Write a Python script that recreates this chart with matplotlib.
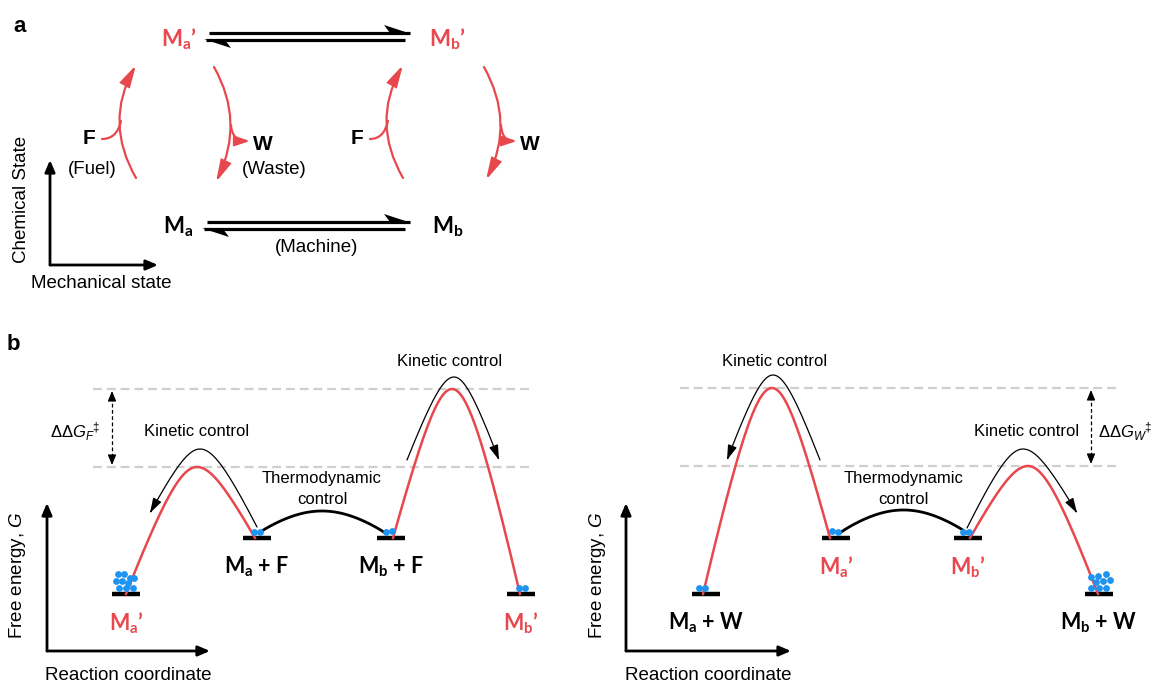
import numpy as np
import matplotlib
matplotlib.use("Agg")
import matplotlib.pyplot as plt
from matplotlib.patches import FancyArrowPatch, Polygon
from matplotlib.path import Path

# ---------------- data (pixel layout space, y downward) ----------------
RED = "#E8474D"
BLUE = "#1E93F0"

# Panel a: chemical/mechanical states
a_names = ["$\\mathbf{M_a}$\u2019", "$\\mathbf{M_b}$\u2019", "$\\mathbf{M_a}$", "$\\mathbf{M_b}$"]
a_node_x = [179, 447, 178, 448]
a_node_y = [39, 39, 227, 227]
a_node_color = [RED, RED, "black", "black"]
# red cycle arcs: bottom/ bulge / top (x,y) for F-arcs (upward) and W-arcs (downward)
F_arc_x = [[136, 120, 136], [403, 387, 403]]
F_arc_y = [[178, 122, 65], [178, 122, 65]]
W_arc_x = [[214, 230, 216], [484, 500, 486]]
W_arc_y = [[67, 123, 182], [67, 123, 180]]
F_label_x = [89, 357]
W_label_x = [263, 530]

# Panel b: energy diagrams
fuel_level_x = [126, 257, 391, 521]
fuel_level_y = [594, 538, 538, 594]
fuel_labels = ["$\\mathbf{M_a}$\u2019", "$\\mathbf{M_a}$ + F", "$\\mathbf{M_b}$ + F", "$\\mathbf{M_b}$\u2019"]
fuel_label_color = [RED, "black", "black", RED]
fuel_peak_x = [197, 452]
fuel_peak_y = [467, 389]

waste_level_x = [706, 836, 968, 1099]
waste_level_y = [594, 538, 538, 594]
waste_labels = ["$\\mathbf{M_a}$ + W", "$\\mathbf{M_a}$\u2019", "$\\mathbf{M_b}$\u2019", "$\\mathbf{M_b}$ + W"]
waste_label_color = ["black", RED, RED, "black"]
waste_peak_x = [772, 1028]
waste_peak_y = [388, 466]

thermo_peak_y = [511, 510]

# blue population dots (x, y)
dots_fuel_x = [118, 124, 130, 116, 122, 128, 134, 119, 126, 133, 254, 260, 386, 392, 519, 525]
dots_fuel_y = [574, 574, 578, 581, 581, 583, 578, 588, 588, 588, 532, 532, 532, 531, 588, 588]
dots_waste_x = [699, 705, 832, 838, 963, 969, 1091, 1098, 1106, 1096, 1103, 1110, 1091, 1099, 1106]
dots_waste_y = [588, 588, 531, 532, 532, 532, 577, 576, 574, 582, 581, 580, 588, 588, 588]

W_PX, H_PX = 1153, 683

plt.rcParams["mathtext.fontset"] = "custom"
plt.rcParams["mathtext.rm"] = "Liberation Sans"
plt.rcParams["mathtext.bf"] = "Lato:bold"
plt.rcParams["mathtext.it"] = "Liberation Sans:italic"

fig = plt.figure(figsize=(W_PX / 100, H_PX / 100), dpi=100)
ax = fig.add_axes([0, 0, 1, 1])
ax.set_xlim(0, W_PX)
ax.set_ylim(H_PX, 0)
ax.axis("off")

SANS = "Liberation Sans"
LAB = "Lato"


def quad_arrow(p0, pm, p2, color, lw, ms, hl, hw, head=True):
    cx = 2 * pm[0] - (p0[0] + p2[0]) / 2
    cy = 2 * pm[1] - (p0[1] + p2[1]) / 2
    path = Path([p0, (cx, cy), p2], [Path.MOVETO, Path.CURVE3, Path.CURVE3])
    style = f"-|>,head_length={hl},head_width={hw}" if head else "-"
    ax.add_patch(FancyArrowPatch(path=path, arrowstyle=style, mutation_scale=ms,
                                 color=color, lw=lw, capstyle="round", joinstyle="miter"))


def curve_arrow(x, y, color="black", lw=0.9, ms=10, hl=0.9, hw=0.28):
    path = Path(np.c_[x, y])
    ax.add_patch(FancyArrowPatch(path=path, arrowstyle=f"-|>,head_length={hl},head_width={hw}",
                                 mutation_scale=ms, color=color, lw=lw))


def barrier(x0, y0, xp, yp, x1, y1, c=0.45, n=80):
    s = np.linspace(1, 0, n)
    h = (np.sqrt(s ** 2 + c ** 2) - c) / (np.sqrt(1 + c ** 2) - c)
    xl = xp + (x0 - xp) * s
    yl = yp + (y0 - yp) * h
    s2 = np.linspace(0, 1, n)[1:]
    h2 = (np.sqrt(s2 ** 2 + c ** 2) - c) / (np.sqrt(1 + c ** 2) - c)
    xr = xp + (x1 - xp) * s2
    yr = yp + (y1 - yp) * h2
    return np.r_[xl, xr], np.r_[yl, yr]


def axis_arrows(x0, y0, ytop, xright, lw=2.0):
    for xy in [(x0, ytop), (xright, y0)]:
        ax.annotate("", xy=xy, xytext=(x0, y0),
                    arrowprops=dict(arrowstyle="-|>,head_length=0.7,head_width=0.3", color="black",
                                    lw=lw, shrinkA=0, shrinkB=0, mutation_scale=10))


def eq_arrows(xl, xr, y_up, y_lo):
    ax.plot([xl + 3, xr], [y_up, y_up], color="black", lw=2.3, solid_capstyle="butt")
    ax.plot([xl, xr - 5], [y_lo, y_lo], color="black", lw=2.3, solid_capstyle="butt")
    ax.add_patch(Polygon([(xr + 1, y_up + 0.8), (xr - 26, y_up - 8), (xr - 20, y_up)],
                         closed=True, color="black", lw=0))
    ax.add_patch(Polygon([(xl - 2, y_lo - 0.8), (xl + 25, y_lo + 8), (xl + 19, y_lo)],
                         closed=True, color="black", lw=0))


# ---------------- panel a ----------------
ax.text(13, 26, "a", fontsize=16, fontweight="bold", family=SANS, va="center", ha="left")
for nm, x, y, c in zip(a_names, a_node_x, a_node_y, a_node_color):
    ax.text(x, y, nm, fontsize=16, family=LAB, fontweight="bold", color=c, ha="center", va="center")
eq_arrows(206, 410, 33, 40)
eq_arrows(204, 410, 222, 229)
ax.text(317, 248, "(Machine)", fontsize=13.5, family=SANS, ha="center", va="center")

for xs, ys, lx in zip(F_arc_x, F_arc_y, F_label_x):
    quad_arrow((xs[0], ys[0]), (xs[1], ys[1]), (xs[2], ys[2]), RED, 1.6, 10, 1.3, 0.33)
    # fuel input branch
    path = Path([(lx + 13, 139), (xs[1] - 3, 139), (xs[1] + 1, 121)],
                [Path.MOVETO, Path.CURVE3, Path.CURVE3])
    ax.add_patch(FancyArrowPatch(path=path, arrowstyle="-", color=RED, lw=1.6))
    ax.text(lx, 139, "F", fontsize=15, family=SANS, fontweight="bold", ha="center", va="center")

for xs, ys, lx in zip(W_arc_x, W_arc_y, W_label_x):
    quad_arrow((xs[0], ys[0]), (xs[1], ys[1]), (xs[2], ys[2]), RED, 1.6, 10, 1.3, 0.33)
    path = Path([(xs[1] + 1, 125), (xs[1] + 2, 141), (lx - 13, 141)],
                [Path.MOVETO, Path.CURVE3, Path.CURVE3])
    ax.add_patch(FancyArrowPatch(path=path, arrowstyle="-|>,head_length=0.9,head_width=0.3",
                                 mutation_scale=10, color=RED, lw=1.6))
    ax.text(lx, 144, "W", fontsize=15, family=SANS, fontweight="bold", ha="center", va="center")

ax.text(92, 169, "(Fuel)", fontsize=13.5, family=SANS, ha="center", va="center")
ax.text(274, 169, "(Waste)", fontsize=13.5, family=SANS, ha="center", va="center")

axis_arrows(50, 265, 160, 158)
ax.text(22, 199, "Chemical State", fontsize=13.5, family=SANS, rotation=90, ha="center", va="center")
ax.text(101, 283, "Mechanical state", fontsize=13.5, family=SANS, ha="center", va="center")

# ---------------- panel b ----------------
ax.text(13, 345, "b", fontsize=16, fontweight="bold", family=SANS, va="center", ha="center")


def energy_panel(lx, ly, labels, lcols, px, py, thermo_y, dxs, dys, dash_x, ddg_x, ddg_text,
                 ddg_tx, ddg_ha, kin_text_pos, kin_arcs, thermo_x, red_ends, axis_x, axis_right):
    for yy in sorted(py):
        ax.plot(dash_x, [yy, yy], color="#CFCFCF", lw=1.6, ls=(0, (4, 2.2)), zorder=1)
    y_top, y_bot = min(py) + 2, max(py) - 2
    ax.plot([ddg_x, ddg_x], [y_top + 6, y_bot - 6], color="black", lw=0.9, ls=(0, (3, 2)))
    for yy, yf in [(y_top, y_top + 8), (y_bot, y_bot - 8)]:
        ax.annotate("", xy=(ddg_x, yy), xytext=(ddg_x, yf),
                    arrowprops=dict(arrowstyle="-|>,head_length=0.6,head_width=0.25", color="black",
                                    lw=0.9, shrinkA=0, shrinkB=0, mutation_scale=10))
    ax.text(ddg_tx, 432, ddg_text, fontsize=12, family=SANS, ha=ddg_ha, va="center")
    for x, y in zip(lx, ly):
        ax.plot([x - 14, x + 14], [y, y], color="black", lw=3.2, solid_capstyle="butt", zorder=3)
    for (x0, x1), xp, yp, (i0, i1) in zip(red_ends, px, py, [(0, 1), (2, 3)]):
        bx, by = barrier(x0, ly[i0], xp, yp, x1, ly[i1])
        ax.plot(bx, by, color=RED, lw=1.8, zorder=4)
    t = np.linspace(0, 1, 80)
    tx = thermo_x[0] + (thermo_x[1] - thermo_x[0]) * t
    ty = ly[1] - 5 - (ly[1] - 5 - thermo_y) * np.sin(np.pi * t) ** 0.9
    ax.plot(tx, ty, color="black", lw=2.0, zorder=4)
    ax.text(np.mean(thermo_x), 478, "Thermodynamic", fontsize=12, family=SANS, ha="center", va="center")
    ax.text(np.mean(thermo_x), 500, "control", fontsize=12, family=SANS, ha="center", va="center")
    for (sx, sy, kx, ky, ex, ey) in kin_arcs:
        cx_, cy_ = barrier(sx, sy, kx, ky, ex, ey, c=0.45)
        curve_arrow(cx_, cy_)
    for (tx_, ty_) in kin_text_pos:
        ax.text(tx_, ty_, "Kinetic control", fontsize=12, family=SANS, ha="center", va="center")
    ax.scatter(dxs, dys, s=24, color=BLUE, zorder=5, linewidths=0)
    for x, y, lab, c in zip(lx, ly, labels, lcols):
        ax.text(x, y + 29, lab, fontsize=15.5, family=LAB, fontweight="bold",
                color=c, ha="center", va="center")
    axis_arrows(axis_x, 651, 503, axis_right)
    ax.text(axis_x - 29, 575, "Free energy, $G$", fontsize=13.5, family=SANS, rotation=90,
            ha="center", va="center")
    ax.text((axis_x + axis_right) / 2, 675, "Reaction coordinate", fontsize=13.5, family=SANS,
            ha="center", va="center")


energy_panel(fuel_level_x, fuel_level_y, fuel_labels, fuel_label_color, fuel_peak_x, fuel_peak_y,
             thermo_peak_y[0], dots_fuel_x, dots_fuel_y, [93, 533], 112,
             "\u0394\u0394$G_F{}^{\\ddag}$",
             100, "right", [(197, 432), (450, 362)],
             [(257, 527, 200, 449, 150, 513), (407, 460, 454, 377, 499, 460)],
             (259, 385), [(126, 255), (393, 520)], 47, 210)

energy_panel(waste_level_x, waste_level_y, waste_labels, waste_label_color, waste_peak_x, waste_peak_y,
             thermo_peak_y[1], dots_waste_x, dots_waste_y, [680, 1120], 1091,
             "\u0394\u0394$G_W{}^{\\ddag}$",
             1098, "left", [(775, 362), (1027, 432)],
             [(820, 460, 773, 375, 727, 460), (967, 528, 1023, 449, 1077, 513)],
             (840, 967), [(703, 830), (970, 1098)], 626, 791)

fig.savefig("out.png", dpi=100)
